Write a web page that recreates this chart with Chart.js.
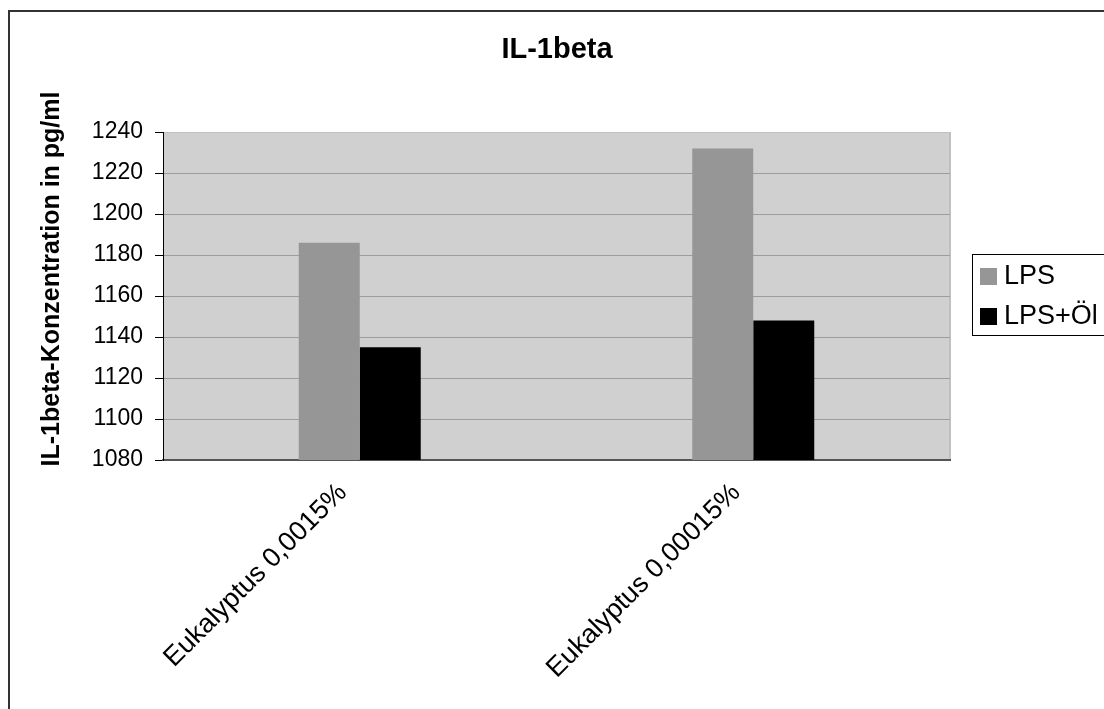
<!DOCTYPE html>
<html>
<head>
<meta charset="utf-8">
<script src="https://cdn.jsdelivr.net/npm/chart.js@4/dist/chart.umd.min.js"></script>
<style>
  html, body { margin: 0; padding: 0; background: #fff; overflow: hidden; }
  #frame { position: absolute; left: 8px; top: 10px; width: 1130px; height: 730px;
           border: 2px solid #333; box-sizing: border-box; }
  #wrap { position: absolute; left: 0; top: 0; width: 1104px; height: 709px; }
</style>
</head>
<body>
<div id="frame"></div>
<div id="wrap"><canvas id="c" width="1104" height="709"></canvas></div>
<script>
// Chart data
const categories = ['Eukalyptus 0,0015%', 'Eukalyptus 0,00015%'];
const seriesNames = ['LPS', 'LPS+Öl'];
const lpsValues = [1186, 1232];
const lpsOilValues = [1135, 1148];
const yMin = 1080;
const yMax = 1240;
const yStep = 20;
const chartTitle = 'IL-1beta';
const yAxisTitle = 'IL-1beta-Konzentration in pg/ml';

const FONT = '"Liberation Sans", Arial, sans-serif';

// Grey plot area behind the bars, with a light border on the right
const plotArea = {
  id: 'plotArea',
  beforeDraw(chart) {
    const { ctx, chartArea: a } = chart;
    ctx.save();
    ctx.fillStyle = '#d0d0d0';
    ctx.fillRect(a.left, a.top, a.right - a.left, a.bottom - a.top);
    ctx.strokeStyle = '#c0c0c0';
    ctx.lineWidth = 2;
    ctx.beginPath();
    ctx.moveTo(a.right, a.top);
    ctx.lineTo(a.right, a.bottom);
    ctx.stroke();
    ctx.restore();
  }
};

// Chart heading and vertical axis caption
const captions = {
  id: 'captions',
  afterDraw(chart) {
    const { ctx } = chart;
    ctx.save();
    ctx.fillStyle = '#000';
    ctx.textAlign = 'center';
    ctx.textBaseline = 'middle';
    ctx.font = 'bold 29px ' + FONT;
    ctx.fillText(chartTitle, 557, 50);

    ctx.translate(52, 279);
    ctx.rotate(-Math.PI / 2);
    ctx.font = 'bold 25px ' + FONT;
    ctx.fillText(yAxisTitle, 0, 0);
    ctx.restore();
  }
};

// Boxed legend on the right, built from the datasets
const boxedLegend = {
  id: 'boxedLegend',
  afterDraw(chart) {
    const { ctx } = chart;
    const x = 972, y = 254, w = 160, h = 81;
    ctx.save();
    ctx.strokeStyle = '#000';
    ctx.lineWidth = 1;
    ctx.strokeRect(x + 0.5, y + 0.5, w, h);
    ctx.font = '27px ' + FONT;
    ctx.textBaseline = 'middle';
    ctx.textAlign = 'left';
    chart.data.datasets.forEach((ds, i) => {
      const cy = y + 22 + i * 40;
      ctx.fillStyle = ds.backgroundColor;
      ctx.fillRect(x + 8, cy - 8, 17, 17);
      ctx.fillStyle = '#000';
      ctx.fillText(ds.label, x + 32, cy + 1);
    });
    ctx.restore();
  }
};

new Chart(document.getElementById('c'), {
  type: 'bar',
  data: {
    labels: categories,
    datasets: [
      { label: seriesNames[0], data: lpsValues, backgroundColor: '#969696' },
      { label: seriesNames[1], data: lpsOilValues, backgroundColor: '#000000' }
    ]
  },
  options: {
    responsive: false,
    animation: false,
    devicePixelRatio: 1,
    layout: { padding: { top: 132, left: 0, right: 154, bottom: 0 } },
    datasets: { bar: { barPercentage: 1.0, categoryPercentage: 0.31 } },
    plugins: {
      legend: { display: false },
      title: { display: false },
      tooltip: { enabled: false }
    },
    scales: {
      x: {
        afterFit(s) { s.height = 249; },
        grid: { display: false, drawTicks: false },
        border: { display: true, color: '#555', width: 2 },
        ticks: {
          color: '#000',
          font: { family: FONT, size: 27 },
          minRotation: 45,
          maxRotation: 45,
          labelOffset: -17,
          padding: 17
        }
      },
      y: {
        min: yMin,
        max: yMax,
        afterFit(s) { s.width = 163; },
        grid: {
          color: (c) => (c.tick && c.tick.value === yMax ? '#c0c0c0' : '#9c9c9c'),
          lineWidth: 1,
          tickColor: '#000',
          tickLength: 8
        },
        border: { display: true, color: '#000', width: 1 },
        ticks: {
          stepSize: yStep,
          color: '#000',
          padding: 12,
          font: { family: FONT, size: 23 },
          callback: (v) => String(v)
        },
        title: { display: false }
      }
    }
  },
  plugins: [plotArea, captions, boxedLegend]
});
</script>
</body>
</html>
